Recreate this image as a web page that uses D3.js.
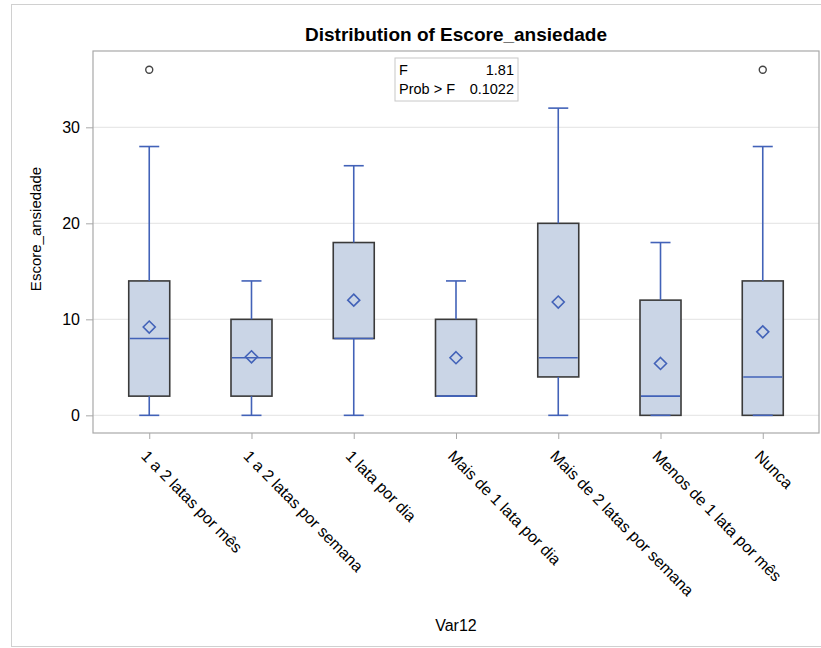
<!DOCTYPE html>
<html>
<head>
<meta charset="utf-8">
<script src="https://cdn.jsdelivr.net/npm/d3@7"></script>
<style>
  body { margin: 0; background: #fff; }
  text { font-family: "Liberation Sans", Arial, sans-serif; fill: #000; }
</style>
</head>
<body>
<svg id="chart" width="821" height="648"></svg>
<script>
// box plot values
var categories = ["1 a 2 latas por mês", "1 a 2 latas por semana", "1 lata por dia",
  "Mais de 1 lata por dia", "Mais de 2 latas por semana", "Menos de 1 lata por mês", "Nunca"];
var minVals = [0, 0, 0, 2, 0, 0, 0];
var q1Vals = [2, 2, 8, 2, 4, 0, 0];
var medianVals = [8, 6, 8, 2, 6, 2, 4];
var q3Vals = [14, 10, 18, 10, 20, 12, 14];
var maxVals = [28, 14, 26, 14, 32, 18, 28];
var meanVals = [9.2, 6.1, 12.0, 6.0, 11.8, 5.4, 8.7];
var outlierVals = [[36], [], [], [], [], [], [36]];
var yTicks = [0, 10, 20, 30];
var statLabels = ["F", "Prob > F"];
var statValues = ["1.81", "0.1022"];

var svg = d3.select("#chart"),
  width = +svg.attr("width"),
  height = +svg.attr("height");

// plot area (note: "top" is taken by window.top, so use plot* names)
var plotL = 93, plotR = 819, plotT = 51, plotB = 433;
var blue = "#4262b8", boxFill = "#cad5e6", boxLine = "#3a3a3a";

// outer frame of the screenshot
svg.append("rect")
  .attr("x", 11.5).attr("y", 4.5)
  .attr("width", width).attr("height", 642)
  .attr("fill", "none").attr("stroke", "#d0d0d0");

var x = d3.scalePoint().domain(categories).range([plotL, plotR]).padding(0.55);
var y = d3.scaleLinear().domain([-1.84, 37.95]).range([plotB, plotT]);

var boxes = categories.map(function (c, i) {
  return { cat: c, min: minVals[i], q1: q1Vals[i], med: medianVals[i], q3: q3Vals[i],
    max: maxVals[i], mean: meanVals[i], out: outlierVals[i] };
});

// grid lines
svg.append("g").selectAll("line")
  .data(yTicks).enter().append("line")
  .attr("x1", plotL).attr("x2", plotR)
  .attr("y1", function (d) { return y(d); })
  .attr("y2", function (d) { return y(d); })
  .attr("stroke", "#e8e8e8").attr("stroke-width", 1.2);

// plot frame
svg.append("rect")
  .attr("x", plotL).attr("y", plotT)
  .attr("width", plotR - plotL).attr("height", plotB - plotT)
  .attr("fill", "none").attr("stroke", "#a8a8a8").attr("stroke-width", 1.2);

// y axis
var yAxis = svg.append("g")
  .attr("transform", "translate(" + plotL + ",0)")
  .call(d3.axisLeft(y).tickValues(yTicks).tickSize(7).tickPadding(6));
yAxis.select(".domain").remove();
yAxis.selectAll(".tick line").attr("stroke", "#a8a8a8");
yAxis.selectAll(".tick text").attr("font-size", 16).style("font-family", "Liberation Sans, Arial, sans-serif");

// x axis
var xAxis = svg.append("g")
  .attr("transform", "translate(0," + plotB + ")")
  .call(d3.axisBottom(x).tickSize(6).tickFormat(""));
xAxis.select(".domain").remove();
xAxis.selectAll(".tick line").attr("stroke", "#a8a8a8");

svg.append("g").selectAll("text")
  .data(categories).enter().append("text")
  .attr("transform", function (d) { return "translate(" + (x(d) - 5) + ",453) rotate(45.5)"; })
  .attr("dy", "0.35em")
  .attr("font-size", 16)
  .text(function (d) { return d; });

// axis titles
svg.append("text")
  .attr("transform", "translate(41,229) rotate(-90)")
  .attr("text-anchor", "middle")
  .attr("font-size", 15)
  .text("Escore_ansiedade");

svg.append("text")
  .attr("x", (plotL + plotR) / 2).attr("y", 631)
  .attr("text-anchor", "middle")
  .attr("font-size", 16)
  .text("Var12");

svg.append("text")
  .attr("x", 456).attr("y", 41)
  .attr("text-anchor", "middle")
  .attr("font-size", 19).attr("font-weight", "bold")
  .text("Distribution of Escore_ansiedade");

// boxes
var bw = 41, cap = 20;
var g = svg.append("g").selectAll("g")
  .data(boxes).enter().append("g")
  .attr("transform", function (d) { return "translate(" + x(d.cat) + ",0)"; });

g.append("rect")
  .attr("x", -bw / 2).attr("width", bw)
  .attr("y", function (d) { return y(d.q3); })
  .attr("height", function (d) { return y(d.q1) - y(d.q3); })
  .attr("fill", boxFill).attr("stroke", boxLine).attr("stroke-width", 1.6);

// whiskers
g.append("line")
  .attr("x1", 0).attr("x2", 0)
  .attr("y1", function (d) { return y(d.q3); })
  .attr("y2", function (d) { return y(d.max); })
  .attr("stroke", blue).attr("stroke-width", 1.6);
g.append("line")
  .attr("x1", 0).attr("x2", 0)
  .attr("y1", function (d) { return y(d.q1); })
  .attr("y2", function (d) { return y(d.min); })
  .attr("stroke", blue).attr("stroke-width", 1.6);
g.append("line")
  .attr("x1", -cap / 2).attr("x2", cap / 2)
  .attr("y1", function (d) { return y(d.max); })
  .attr("y2", function (d) { return y(d.max); })
  .attr("stroke", blue).attr("stroke-width", 1.6);
g.append("line")
  .attr("x1", -cap / 2).attr("x2", cap / 2)
  .attr("y1", function (d) { return y(d.min); })
  .attr("y2", function (d) { return y(d.min); })
  .attr("stroke", blue).attr("stroke-width", 1.6);

// median
g.append("line")
  .attr("x1", -bw / 2 + 1).attr("x2", bw / 2 - 1)
  .attr("y1", function (d) { return y(d.med); })
  .attr("y2", function (d) { return y(d.med); })
  .attr("stroke", blue).attr("stroke-width", 1.6);

// mean diamond
g.append("path")
  .attr("d", function (d) {
    var cy = y(d.mean), r = 6;
    return "M0," + (cy - r) + "L" + r + "," + cy + "L0," + (cy + r) + "L" + (-r) + "," + cy + "Z";
  })
  .attr("fill", "none").attr("stroke", blue).attr("stroke-width", 1.6);

// outliers
g.selectAll("circle")
  .data(function (d) { return d.out; })
  .enter().append("circle")
  .attr("cx", 0).attr("cy", function (v) { return y(v); })
  .attr("r", 3.5)
  .attr("fill", "none").attr("stroke", "#444").attr("stroke-width", 1.4);

// F statistic inset
var inset = svg.append("g").attr("transform", "translate(395,58)");
inset.append("rect")
  .attr("width", 123).attr("height", 43)
  .attr("fill", "#fff").attr("stroke", "#c8c8c8");
inset.selectAll(".lab")
  .data(statLabels).enter().append("text")
  .attr("x", 4).attr("y", function (d, i) { return 17 + i * 19; })
  .attr("font-size", 14.5)
  .text(function (d) { return d; });
inset.selectAll(".val")
  .data(statValues).enter().append("text")
  .attr("x", 119).attr("y", function (d, i) { return 17 + i * 19; })
  .attr("text-anchor", "end")
  .attr("font-size", 14.5)
  .text(function (d) { return d; });
</script>
</body>
</html>
